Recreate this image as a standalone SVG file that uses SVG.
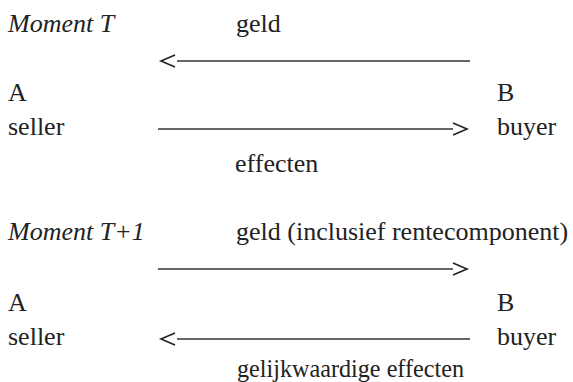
<svg xmlns="http://www.w3.org/2000/svg" width="573" height="382" viewBox="0 0 573 382">
  <style>
    text { font-family: "Liberation Serif", "DejaVu Serif", serif; font-size: 26px; fill: #222; }
    .it { font-style: italic; }
    .rule { stroke: #333; stroke-width: 1.3; fill: none; }
    .chev { stroke: #222; stroke-width: 1.6; fill: none; stroke-linejoin: miter; }
  </style>
  <rect width="573" height="382" fill="#fff"/>

  <!-- Moment T -->
  <g id="label-t"><text class="it" x="8" y="32">Moment T</text></g>
  <g id="flow-geld-t"><text x="236" y="32">geld</text></g>
  <g id="party-a-t"><text x="8" y="101">A</text><text x="8" y="135">seller</text></g>
  <g id="party-b-t"><text x="497" y="101">B</text><text x="497" y="135">buyer</text></g>
  <g id="flow-effecten-t"><text x="235" y="172">effecten</text></g>

  <!-- Moment T+1 -->
  <g id="label-t1"><text class="it" x="8" y="240">Moment T+1</text></g>
  <g id="flow-geld-t1"><text x="236" y="240">geld (inclusief rentecomponent)</text></g>
  <g id="party-a-t1"><text x="8" y="311">A</text><text x="8" y="345">seller</text></g>
  <g id="party-b-t1"><text x="497" y="311">B</text><text x="497" y="345">buyer</text></g>
  <g id="flow-effecten-t1"><text x="237" y="377" textLength="227" lengthAdjust="spacingAndGlyphs">gelijkwaardige effecten</text></g>

  <g id="connectors">
    <!-- B to A: geld -->
    <line class="rule" x1="177" y1="61" x2="470" y2="61"/>
    <polyline class="chev" points="175,55 161,61 175,67"/>
    <!-- A to B: effecten -->
    <line class="rule" x1="158" y1="129" x2="453" y2="129"/>
    <polyline class="chev" points="453,123 467,129 453,135"/>
    <!-- A to B: geld incl. rente -->
    <line class="rule" x1="158" y1="269" x2="453" y2="269"/>
    <polyline class="chev" points="453,263 467,269 453,275"/>
    <!-- B to A: gelijkwaardige effecten -->
    <line class="rule" x1="177" y1="339" x2="470" y2="339"/>
    <polyline class="chev" points="175,333 161,339 175,345"/>
  </g>
</svg>
